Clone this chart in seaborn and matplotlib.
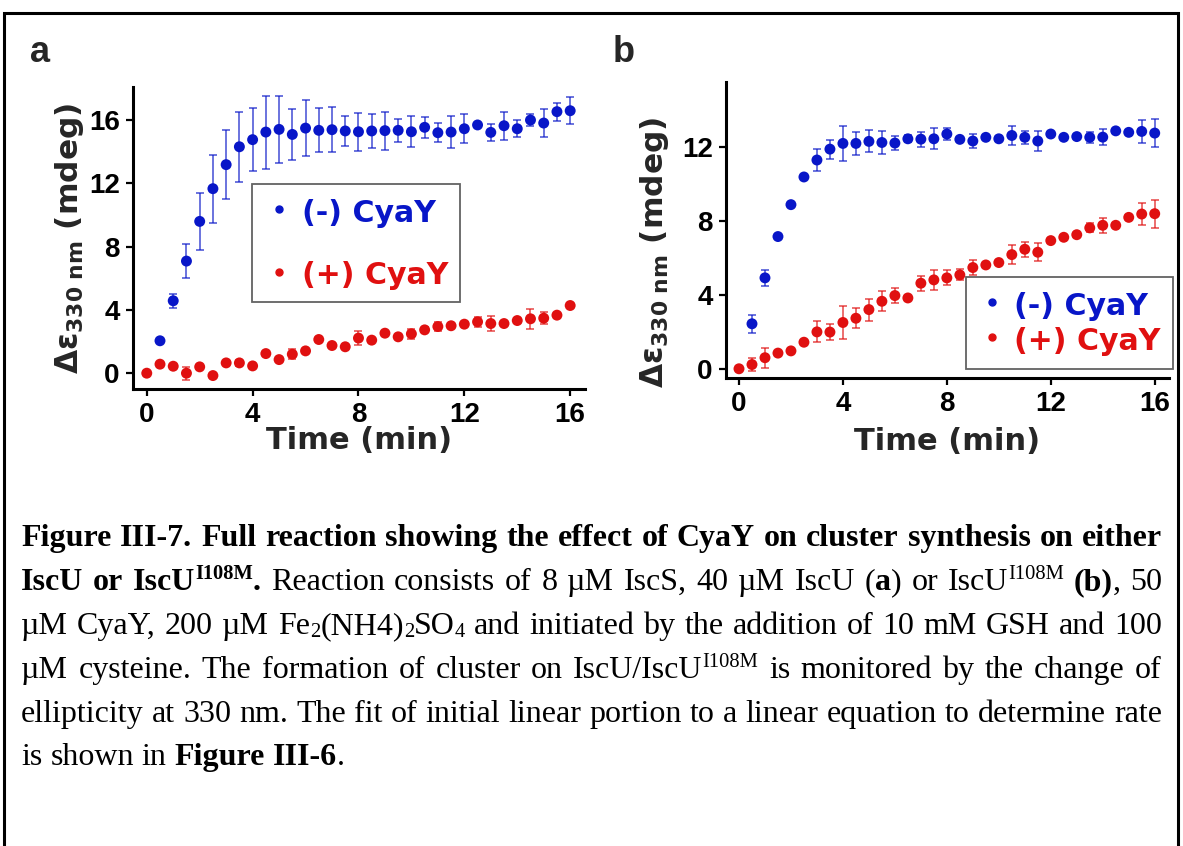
import numpy as np
import pandas as pd
import matplotlib
matplotlib.use("Agg")
import matplotlib.pyplot as plt
import seaborn as sns
from matplotlib.lines import Line2D
from matplotlib.patches import Rectangle
from matplotlib.font_manager import FontProperties

nan = np.nan

# ---------------------------------------------------------------- data
time_min = [0, 0.5, 1, 1.5, 2, 2.5, 3, 3.5, 4, 4.5, 5, 5.5, 6, 6.5, 7, 7.5, 8,
            8.5, 9, 9.5, 10, 10.5, 11, 11.5, 12, 12.5, 13, 13.5, 14, 14.5, 15,
            15.5, 16]

conditions = ["(-) CyaY", "(+) CyaY"]

# panel a: IscU
a_minus = [nan, 2.05, 4.58, 7.09, 9.6, 11.67, 13.19, 14.32, 14.77, 15.25, 15.42,
           15.1, 15.5, 15.36, 15.4, 15.32, 15.27, 15.32, 15.34, 15.36, 15.27,
           15.55, 15.21, 15.25, 15.46, 15.7, 15.23, 15.65, 15.46, 16.01, 15.82,
           16.54, 16.6]
a_minus_err = [nan, 0.1, 0.45, 1.08, 1.8, 2.14, 2.16, 2.23, 2.0, 2.31, 2.12,
               1.6, 1.76, 1.39, 1.43, 0.93, 1.21, 1.1, 1.21, 0.72, 0.98, 0.65,
               0.6, 1.0, 0.93, 0.15, 0.56, 0.9, 0.54, 0.4, 0.9, 0.56, 0.87]
a_plus = [0, 0.57, 0.44, 0.0, 0.4, -0.15, 0.65, 0.65, 0.46, 1.24, 0.86, 1.2,
          1.41, 2.13, 1.75, 1.67, 2.22, 2.09, 2.53, 2.3, 2.49, 2.74, 2.95, 3.0,
          3.1, 3.25, 3.14, 3.14, 3.33, 3.44, 3.48, 3.67, 4.28]
a_plus_err = [0.1, 0.1, 0.1, 0.42, 0.1, 0.1, 0.1, 0.2, 0.1, 0.1, 0.1, 0.3, 0.1,
              0.1, 0.1, 0.1, 0.45, 0.1, 0.1, 0.1, 0.3, 0.15, 0.3, 0.1, 0.1, 0.3,
              0.5, 0.1, 0.1, 0.63, 0.4, 0.1, 0.1]

# panel b: IscU I108M
b_minus = [nan, 2.44, 4.93, 7.17, 8.9, 10.4, 11.32, 11.91, 12.22, 12.22, 12.33,
           12.27, 12.24, 12.47, 12.45, 12.47, 12.73, 12.44, 12.35, 12.55, 12.47,
           12.65, 12.55, 12.35, 12.73, 12.55, 12.59, 12.55, 12.56, 12.9, 12.82,
           12.87, 12.78]
b_minus_err = [nan, 0.5, 0.43, 0.1, 0.1, 0.1, 0.6, 0.52, 0.96, 0.61, 0.6, 0.6,
               0.4, 0.2, 0.4, 0.58, 0.3, 0.1, 0.4, 0.1, 0.1, 0.5, 0.35, 0.55,
               0.1, 0.1, 0.1, 0.3, 0.45, 0.1, 0.1, 0.61, 0.77]
b_plus = [0, 0.23, 0.6, 0.85, 0.97, 1.44, 2.0, 1.99, 2.51, 2.74, 3.21, 3.66,
          3.97, 3.84, 4.64, 4.82, 4.93, 5.09, 5.49, 5.63, 5.76, 6.19, 6.48, 6.32,
          6.95, 7.13, 7.27, 7.64, 7.78, 7.78, 8.21, 8.39, 8.41]
b_plus_err = [0.1, 0.35, 0.55, 0.1, 0.1, 0.1, 0.57, 0.45, 0.9, 0.55, 0.6, 0.55,
              0.4, 0.1, 0.4, 0.55, 0.4, 0.3, 0.4, 0.1, 0.1, 0.5, 0.4, 0.5, 0.1,
              0.1, 0.1, 0.25, 0.4, 0.1, 0.1, 0.58, 0.75]

x_ticks = [0, 4, 8, 12, 16]
a_yticks = [0, 4, 8, 12, 16]
b_yticks = [0, 4, 8, 12]

x_label = "Time (min)"
y_label = r"$\Delta\varepsilon_{330\ nm}$ (mdeg)"

caption_lines = [
    [("Figure III-7. Full reaction showing the effect of CyaY on cluster synthesis on either", "b")],
    [("IscU or IscU", "b"), ("I108M", "bp"), (".", "b"),
     (" Reaction consists of 8 \u00b5M IscS, 40 \u00b5M IscU (", "r"), ("a", "b"),
     (") or IscU", "r"), ("I108M", "rp"), (" ", "r"), ("(b)", "b"), (", 50", "r")],
    [("\u00b5M CyaY, 200 \u00b5M Fe", "r"), ("2", "rb"), ("(NH4)", "r"), ("2", "rb"),
     ("SO", "r"), ("4", "rb"), (" and initiated by the addition of 10 mM GSH and 100", "r")],
    [("\u00b5M cysteine. The formation of cluster on IscU/IscU", "r"), ("I108M", "rp"),
     (" is monitored by the change of", "r")],
    [("ellipticity at 330 nm. The fit of initial linear portion to a linear equation to determine rate", "r")],
    [("is shown in ", "r"), ("Figure III-6", "b"), (".", "r")],
]

# ---------------------------------------------------------------- style
sns.set_style("ticks")
plt.rcParams["font.family"] = ["Liberation Sans", "DejaVu Sans"]
plt.rcParams["font.weight"] = "bold"
plt.rcParams["mathtext.fontset"] = "custom"
plt.rcParams["mathtext.rm"] = "DejaVu Sans:bold"
plt.rcParams["mathtext.it"] = "DejaVu Sans:bold"
plt.rcParams["mathtext.bf"] = "DejaVu Sans:bold"

BLUE = "#0816c8"
RED = "#e01010"
palette = {conditions[0]: BLUE, conditions[1]: RED}

W, H = 1183, 846
fig = plt.figure(figsize=(W / 100, H / 100), dpi=100)
fig.patch.set_facecolor("white")


def frac(x, y):
    return x / W, 1 - y / H


def make_frame(minus, minus_err, plus, plus_err):
    rows = []
    for cond, vals, errs in [(conditions[0], minus, minus_err),
                             (conditions[1], plus, plus_err)]:
        for t, v, e in zip(time_min, vals, errs):
            rows.append({"time": t, "value": v, "err": e, "condition": cond})
    return pd.DataFrame(rows).dropna()


def draw_panel(ax, df, xlim, ylim, yticks, xlabelpad, ylabelpad, ylabel_y,
               legend_anchor, legend_layout):
    for cond in conditions:
        sub = df[df["condition"] == cond]
        ax.errorbar(sub["time"], sub["value"], yerr=sub["err"], fmt="none",
                    ecolor=palette[cond], elinewidth=1.2, capsize=3, capthick=1.2,
                    alpha=0.7, zorder=2)
    sns.scatterplot(data=df, x="time", y="value", hue="condition",
                    palette=palette, s=62, edgecolor="none", linewidth=0,
                    legend=False, ax=ax, zorder=3)
    ax.set_xlim(*xlim)
    ax.set_ylim(*ylim)
    ax.set_xticks(x_ticks)
    ax.set_yticks(yticks)
    sns.despine(ax=ax)
    for side in ("left", "bottom"):
        ax.spines[side].set_linewidth(2.2)
        ax.spines[side].set_color("black")
    ax.tick_params(direction="out", length=5, width=1.6, color="black",
                   labelsize=20, pad=4.5, labelcolor="black")
    for lab in ax.get_xticklabels() + ax.get_yticklabels():
        lab.set_fontweight("bold")
    ax.set_xlabel(x_label, fontfamily="DejaVu Sans", fontweight="bold",
                  fontsize=22, labelpad=xlabelpad)
    ax.set_ylabel(y_label, fontfamily="DejaVu Sans", fontweight="bold",
                  fontsize=22.5, labelpad=ylabelpad)
    ax.yaxis.label.set_y(ylabel_y)

    handles = [Line2D([], [], marker="o", ls="none", color=palette[c],
                      markersize=5) for c in conditions]
    leg = ax.legend(handles, conditions, loc="upper left",
                    bbox_to_anchor=frac(*legend_anchor),
                    bbox_transform=fig.transFigure,
                    prop=FontProperties(family="DejaVu Sans", weight="bold", size=21.6),
                    frameon=True, fancybox=False, borderaxespad=0,
                    **legend_layout)
    leg.get_frame().set_edgecolor("#3c3c3c")
    leg.get_frame().set_linewidth(1.3)
    for txt, c in zip(leg.get_texts(), conditions):
        txt.set_color(palette[c])


ax_a = fig.add_axes([133 / W, 1 - 389 / H, 452 / W, 302 / H])
ax_b = fig.add_axes([726 / W, 1 - 378 / H, 443 / W, 296 / H])

draw_panel(ax_a, make_frame(a_minus, a_minus_err, a_plus, a_plus_err),
           xlim=(-0.52, 16.56), ylim=(-1.0, 18.1), yticks=a_yticks,
           xlabelpad=-1.5, ylabelpad=2, ylabel_y=0.5,
           legend_anchor=(252, 184),
           legend_layout=dict(borderpad=0.4, labelspacing=1.05,
                              handleheight=1.2, handlelength=1.0,
                              handletextpad=0.26))
draw_panel(ax_b, make_frame(b_minus, b_minus_err, b_plus, b_plus_err),
           xlim=(-0.5, 16.55), ylim=(-0.5, 15.55), yticks=b_yticks,
           xlabelpad=7, ylabelpad=8, ylabel_y=0.426,
           legend_anchor=(966, 277),
           legend_layout=dict(borderpad=0.42, labelspacing=0.12,
                              handleheight=1.2, handlelength=0.92,
                              handletextpad=0.27))

# panel letters
fig.text(*frac(30, 62), "a", fontsize=26, fontweight="bold", va="baseline")
fig.text(*frac(613, 62), "b", fontsize=26, fontweight="bold", va="baseline")

# frame around the figure block
fig.add_artist(Rectangle(frac(4, 880), (1178 - 4) / W, (880 - 13) / H,
                         transform=fig.transFigure, fill=False,
                         edgecolor="black", linewidth=2.2, clip_on=False))

# ---------------------------------------------------------------- caption
CAP_SIZE = 23
CAP_FONT = "Liberation Serif"
PX = 100 / 72.0
run_styles = {
    "r": ("normal", 1.0, 0.0),
    "b": ("bold", 1.0, 0.0),
    "rp": ("normal", 0.64, 0.36),
    "bp": ("bold", 0.64, 0.36),
    "rb": ("normal", 0.64, -0.1),
}
renderer = fig.canvas.get_renderer()


def split_words(runs):
    words = [[]]
    for text, st in runs:
        parts = text.split(" ")
        for i, part in enumerate(parts):
            if i > 0:
                words.append([])
            if part:
                words[-1].append((part, st))
    return [w for w in words if w]


def place_line(runs, baseline, x_left, x_right, justify):
    words = split_words(runs)
    placed = []
    widths = []
    for word in words:
        arts = []
        wsum = 0.0
        for part, st in word:
            weight, scale, dy = run_styles[st]
            t = fig.text(0, 0, part, fontsize=CAP_SIZE * scale, family=CAP_FONT,
                         fontweight=weight, va="baseline", ha="left",
                         color="black")
            w = t.get_window_extent(renderer).width
            arts.append((t, w, dy))
            wsum += w
        placed.append(arts)
        widths.append(wsum)
    if justify and len(words) > 1:
        gap = (x_right - x_left - sum(widths)) / (len(words) - 1)
    else:
        probe1 = fig.text(0, 0, "a a", fontsize=CAP_SIZE, family=CAP_FONT)
        probe2 = fig.text(0, 0, "aa", fontsize=CAP_SIZE, family=CAP_FONT)
        gap = (probe1.get_window_extent(renderer).width
               - probe2.get_window_extent(renderer).width)
        probe1.remove()
        probe2.remove()
    x = x_left
    for arts, wsum in zip(placed, widths):
        for t, w, dy in arts:
            t.set_position(frac(x, baseline - dy * CAP_SIZE * PX))
            x += w
        x += gap


baselines = [546, 590, 634, 678, 722, 765]
for i, (runs, base) in enumerate(zip(caption_lines, baselines)):
    place_line(runs, base, 21, 1162, justify=(i < len(caption_lines) - 1))

fig.savefig("out.png", dpi=100, facecolor="white")
